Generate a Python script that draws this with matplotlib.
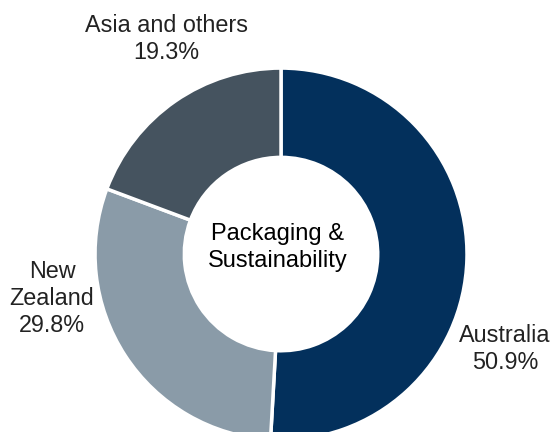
import matplotlib.pyplot as plt

regions = ["Australia", "New\nZealand", "Asia and others"]
shares = [50.9, 29.8, 19.3]
colors = ["#03305C", "#8A9BA8", "#45535F"]
centre_label = "Packaging &\nSustainability"

plt.rcParams["font.family"] = ["Liberation Sans", "DejaVu Sans"]

fig = plt.figure(figsize=(5.54, 4.32), dpi=100)
ax = fig.add_axes([0.1715, -0.0186, 0.6715, 0.861])

wedges, _ = ax.pie(shares, colors=colors, startangle=90, counterclock=False,
                   radius=1.0, wedgeprops=dict(width=0.48, edgecolor="white", linewidth=2.5))

# label positions (data units, relative to pie centre)
label_pos = [(1.204, -0.511), (-1.231, -0.237), (-0.618, 1.156)]
for name, val, (x, y) in zip(regions, shares, label_pos):
    ax.text(x, y, f"{name}\n{val:.1f}%", ha="center", va="center",
            fontsize=16.8, color="#222222", linespacing=1.22, clip_on=False)

ax.text(-0.019, 0.035, centre_label, ha="center", va="center", fontsize=17,
        color="black", linespacing=1.28)

ax.set_xlim(-1, 1)
ax.set_ylim(-1, 1)
ax.set_aspect("equal")
ax.axis("off")

fig.savefig("out.png", dpi=100)
